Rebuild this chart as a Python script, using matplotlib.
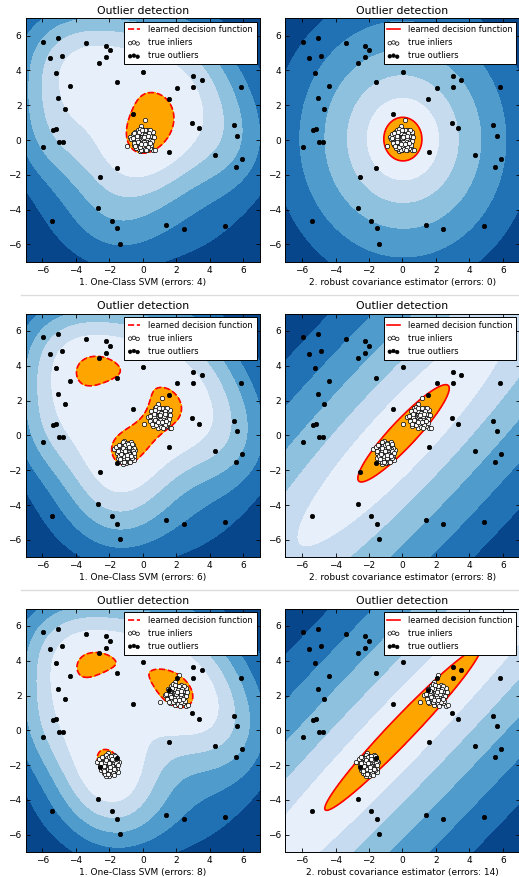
import numpy as np
import matplotlib
matplotlib.use("Agg")
import matplotlib.pyplot as plt
from matplotlib.lines import Line2D

# ---------------- data ----------------
outlier_pts = [
    (-5.95, 5.63), (-5.05, 5.84), (-3.38, 5.56), (-2.23, 5.40), (-1.97, 5.15),
    (-5.57, 4.69), (-4.86, 4.83), (-2.23, 4.75), (-2.63, 4.43), (-5.21, 3.85),
    (0.02, 3.93), (-1.57, 3.31), (-4.36, 3.12), (3.02, 3.66), (3.52, 3.47),
    (2.05, 3.01), (3.02, 3.03), (5.85, 3.03), (-5.05, 2.39), (1.55, 2.34),
    (-4.66, 1.78), (-0.58, 1.49), (2.95, 0.98), (3.34, 0.67), (5.43, 0.84),
    (5.65, 0.25), (-5.37, 0.57), (-5.19, 0.63), (-5.00, -0.10), (-4.76, -0.10),
    (-5.95, -0.40), (1.57, -0.67), (4.32, -0.88), (5.91, -1.09), (5.55, -1.53),
    (-1.57, -1.59), (-2.55, -2.11), (-2.67, -3.93), (-5.41, -4.64), (-1.85, -4.66),
    (-1.53, -5.08), (-1.39, -5.96), (1.39, -4.87), (2.45, -5.10), (4.88, -4.96),
]
# outliers hidden behind the legend box (positions estimated from the shape
# of the learned decision function around them)
outliers_under_legend = [(-0.7, 5.1), (0.3, 4.7), (1.1, 5.7), (2.0, 5.0), (3.2, 5.6)]

# inlier cluster shapes (offsets from the cluster centre); cluster A sits at
# -offset, cluster B at +offset
cluster_a = [
    (-0.75, 0.20), (-0.10, 0.70), (0.00, -0.60), (0.40, 0.00), (-0.20, -0.65), (0.35, 0.35),
    (-0.40, 0.30), (0.15, 0.45), (-0.30, -0.25), (0.25, -0.35), (0.05, 0.10), (-0.15, 0.25),
    (0.30, 0.10), (-0.45, -0.05), (0.10, -0.20), (-0.05, -0.40), (0.45, -0.20), (-0.25, 0.50),
    (0.20, 0.25), (-0.35, -0.45), (0.00, 0.35), (0.55, 0.15), (-0.55, 0.00), (0.15, -0.50),
    (-0.10, 0.05), (0.35, -0.05), (-0.20, -0.10), (0.05, 0.55), (0.25, -0.15), (-0.40, 0.15),
    (0.10, 0.30), (-0.30, 0.40), (0.40, 0.45), (-0.15, -0.30), (0.00, -0.15), (0.30, 0.60),
    (-0.50, -0.30), (0.20, 0.00), (-0.05, 0.20), (0.45, 0.25), (-0.25, -0.50), (0.10, -0.35),
    (-0.35, 0.05), (0.25, 0.40), (-0.10, -0.20), (0.50, -0.40), (-0.60, 0.35), (0.15, 0.15),
    (-0.20, 0.60), (0.35, -0.30), (0.00, 0.00), (-0.40, -0.20), (0.20, -0.45), (-0.15, 0.40),
    (0.30, 0.20), (-0.30, -0.05), (0.05, -0.30), (0.40, 0.10), (-0.45, 0.45), (0.15, -0.05),
    (-0.05, 0.45), (0.25, -0.55), (-0.25, 0.15), (0.10, 0.50), (-0.35, -0.35), (0.35, 0.50),
    (-0.10, -0.50), (0.20, 0.30), (0.50, 0.00), (-0.20, 0.30), (0.05, -0.10), (-0.50, 0.10),
    (0.30, -0.20), (-0.05, 0.10), (0.15, 0.35),
]
cluster_b = [
    (-0.95, -0.35), (-0.70, 0.05), (0.15, 1.15), (-0.10, 0.80), (0.60, -0.60), (0.70, -0.55),
    (0.45, 0.40), (0.30, 0.15), (-0.25, 0.30), (0.05, -0.20), (-0.40, -0.10), (0.20, 0.45),
    (-0.15, -0.35), (0.35, -0.25), (0.10, 0.05), (-0.05, 0.25), (0.50, 0.10), (-0.30, 0.55),
    (0.15, -0.05), (-0.20, -0.05), (0.25, 0.30), (-0.45, 0.20), (0.40, -0.45), (0.00, 0.50),
    (-0.10, -0.55), (0.55, 0.30), (-0.35, -0.30), (0.20, -0.30), (0.05, 0.35), (-0.15, 0.10),
    (0.30, 0.60), (-0.55, -0.20), (0.45, -0.10), (-0.05, -0.05), (0.15, 0.20), (-0.25, -0.20),
    (0.35, 0.05), (0.00, -0.35), (-0.30, 0.35), (0.25, -0.15), (0.60, 0.45), (-0.50, 0.40),
    (0.10, -0.50), (-0.20, 0.65), (0.40, 0.25), (-0.40, -0.45), (0.20, 0.00), (-0.10, 0.40),
    (0.50, -0.30), (-0.05, 0.15), (0.30, -0.40), (-0.35, 0.05), (0.15, 0.55), (-0.20, -0.40),
    (0.05, -0.10), (0.45, 0.55), (-0.60, 0.10), (0.25, 0.10), (-0.15, -0.15), (0.35, 0.40),
    (-0.30, -0.10), (0.10, 0.30), (0.55, -0.05), (-0.45, -0.35), (0.00, 0.10), (0.20, -0.60),
    (-0.25, 0.45), (0.40, -0.20), (-0.10, -0.25), (0.30, 0.25), (0.65, 0.20), (-0.05, 0.60),
    (0.15, -0.25), (-0.35, 0.25), (0.05, 0.20),
]

cluster_separation = [0, 1, 2]
svm_errors = [4, 6, 8]
cov_errors = [0, 8, 14]
tick_values = [-6, -4, -2, 0, 2, 4, 6]

outliers_fraction = 0.25
gamma = 0.1

# ---------------- helpers ----------------
def ocsvm_weights(P, nu, gamma):
    n = len(P)
    D2 = ((P[:, None, :] - P[None, :, :]) ** 2).sum(-1)
    K = np.exp(-gamma * D2)
    C = 1.0 / (nu * n)
    L = np.linalg.eigvalsh(K).max()

    def proj(v):
        lo, hi = v.min() - C, v.max()
        for _ in range(45):
            t = 0.5 * (lo + hi)
            if np.clip(v - t, 0, C).sum() > 1:
                lo = t
            else:
                hi = t
        return np.clip(v - 0.5 * (lo + hi), 0, C)

    a = np.full(n, 1.0 / n)
    y = a.copy()
    tk = 1.0
    for _ in range(4000):
        a_new = proj(y - (K @ y) / L)
        tn = (1 + np.sqrt(1 + 4 * tk * tk)) / 2
        y = a_new + (tk - 1) / tn * (a_new - a)
        a, tk = a_new, tn
    return a, K @ a


def svm_grid(P, a, g):
    Ex = np.exp(-gamma * (g[:, None] - P[None, :, 0]) ** 2)
    Ey = np.exp(-gamma * (g[:, None] - P[None, :, 1]) ** 2)
    return (Ey * a) @ Ex.T


def mahal2(Q, mu, S):
    Si = np.linalg.inv(S)
    D = Q - mu
    return np.einsum('...j,jk,...k->...', D, Si, D)


def min_cov_det(P):
    """Deterministic FAST-MCD style estimate with re-weighting."""
    n, p = P.shape
    h = (n + p + 1) // 2
    D2 = ((P[:, None, :] - P[None, :, :]) ** 2).sum(-1)
    best = None
    for i in range(n):
        idx = np.argsort(D2[i])[:h]
        for _ in range(20):
            mu = P[idx].mean(0)
            S = np.cov(P[idx].T, bias=True)
            new = np.argsort(mahal2(P, mu, S))[:h]
            if set(new) == set(idx):
                break
            idx = new
        det = np.linalg.det(S)
        if best is None or det < best[0]:
            best = (det, mu, S)
    _, mu, S = best
    d2 = mahal2(P, mu, S)
    S = S * np.median(d2) / 1.3862943611198906   # chi2(2).ppf(0.5)
    d2 = mahal2(P, mu, S)
    mask = d2 < 7.377758908227871                 # chi2(2).ppf(0.975)
    mu = P[mask].mean(0)
    S = np.cov(P[mask].T, bias=True)
    return mu, S


# ---------------- figure ----------------
plt.rcParams.update({
    'font.family': 'DejaVu Sans',
    'font.size': 6.5,
    'xtick.direction': 'in', 'ytick.direction': 'in',
    'xtick.top': True, 'ytick.right': True,
    'xtick.major.size': 3, 'ytick.major.size': 3,
    'xtick.major.width': 0.6, 'ytick.major.width': 0.6,
    'xtick.major.pad': 3, 'ytick.major.pad': 3,
    'axes.linewidth': 0.7,
})

W, H = 519, 877
fig = plt.figure(figsize=(W / 100, H / 100), dpi=100)
fig.patch.set_facecolor('white')

ax_left = 25.7 / W
ax_right_left = 285.3 / W
ax_w = 234.3 / W
ax_h = 243.6 / H
row_tops = [18.2, 313.6, 608.5]
separators = [294.5, 589.5]

g = np.linspace(-7, 7, 500)
XX, YY = np.meshgrid(g, g)
A = np.array(cluster_a)
B = np.array(cluster_b)
O = np.array(outlier_pts + outliers_under_legend)
n_out = len(O)

for ys in separators:
    fig.add_artist(Line2D([0.04, 1.0], [1 - ys / H, 1 - ys / H],
                          transform=fig.transFigure, color='#dcdcdc', lw=1.0))

for r, off in enumerate(cluster_separation):
    P = np.r_[A - off, B + off, O]
    n = len(P)
    frac = n_out / n
    nu = 0.95 * outliers_fraction + 0.05
    bottom = 1 - (row_tops[r] + 243.6) / H

    # --- one-class SVM ---
    a, f_train = ocsvm_weights(P, nu, gamma)
    Z1 = svm_grid(P, a, g)
    thr1 = np.percentile(f_train, 100 * frac)

    # --- robust covariance ---
    mu, S = min_cov_det(P)
    f2_train = -(mahal2(P, mu, S) ** 0.33)
    Z2 = -(mahal2(np.stack([XX, YY], axis=-1), mu, S) ** 0.33)
    thr2 = np.percentile(f2_train, 100 * frac)

    panels = [
        (ax_left, Z1, thr1, 'dashed', "1. One-Class SVM (errors: %d)" % svm_errors[r]),
        (ax_right_left, Z2, thr2, 'solid', "2. robust covariance estimator (errors: %d)" % cov_errors[r]),
    ]
    for left, Z, thr, ls, lab in panels:
        ax = fig.add_axes([left, bottom, ax_w, ax_h])
        ax.contourf(g, g, Z, levels=np.linspace(Z.min(), thr, 7), cmap=plt.cm.Blues_r)
        ax.contour(g, g, Z, levels=[thr], linewidths=1.2, colors='red', linestyles=ls)
        ax.contourf(g, g, Z, levels=[thr, Z.max()], colors='orange')
        ax.scatter(P[:-n_out, 0], P[:-n_out, 1], c='white', s=10,
                   edgecolors='black', linewidths=0.5, zorder=3)
        ax.scatter(P[-n_out:, 0], P[-n_out:, 1], c='black', s=10,
                   edgecolors='black', linewidths=0.5, zorder=3)
        ax.set_xlim(-7, 7)
        ax.set_ylim(-7, 7)
        ax.set_xticks(tick_values)
        ax.set_yticks(tick_values)
        ax.set_title("Outlier detection", fontsize=7.8, pad=3)
        ax.set_xlabel(lab, labelpad=2)
        handles = [
            Line2D([], [], color='red', lw=1.2, ls=ls),
            ax.collections[-2],
            ax.collections[-1],
        ]
        leg = ax.legend(handles, ["learned decision function", "true inliers", "true outliers"],
                        loc='upper right', fontsize=5.95, scatterpoints=3,
                        fancybox=False, framealpha=1, edgecolor='black',
                        borderpad=0.45, handlelength=1.5, handletextpad=1.0,
                        labelspacing=0.5, borderaxespad=0.4, markerscale=0.8)
        leg.get_frame().set_linewidth(0.7)
        leg.set_zorder(10)

fig.savefig("out.png", dpi=100)
